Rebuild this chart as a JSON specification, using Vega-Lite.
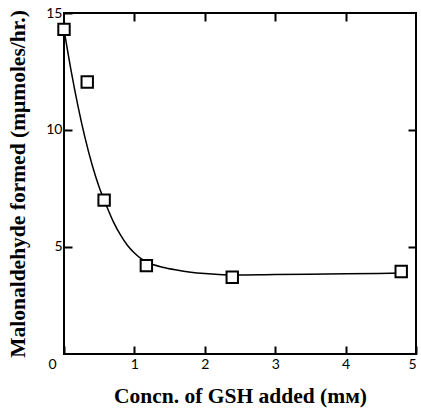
{
  "$schema": "https://vega.github.io/schema/vega-lite/v6.json",
  "width": 352,
  "height": 341,
  "autosize": "none",
  "padding": {"left": 64, "top": 13, "right": 5, "bottom": 57},
  "background": "white",
  "config": {
    "view": {"stroke": "black", "strokeWidth": 2},
    "axis": {
      "domain": false,
      "grid": false,
      "ticks": true,
      "tickSize": -8,
      "tickWidth": 2,
      "tickColor": "black",
      "labelFont": "Lato",
      "labelFontSize": 14,
      "labelColor": "black",
      "titleFont": "Liberation Serif",
      "titleFontSize": 21.5,
      "titleFontWeight": "bold",
      "titleColor": "black"
    }
  },
  "datasets": {
    "points": [
      {"x": 0.0, "y": 14.3},
      {"x": 0.33, "y": 12.05},
      {"x": 0.57, "y": 7.0},
      {"x": 1.17, "y": 4.2},
      {"x": 2.39, "y": 3.7},
      {"x": 4.79, "y": 3.95}
    ],
    "curve": [
      {"x": 0.0, "y": 14.3},
      {"x": 0.1, "y": 12.55},
      {"x": 0.2, "y": 11.0},
      {"x": 0.3, "y": 9.65},
      {"x": 0.4, "y": 8.5},
      {"x": 0.5, "y": 7.55},
      {"x": 0.6, "y": 6.78},
      {"x": 0.7, "y": 6.08},
      {"x": 0.8, "y": 5.52},
      {"x": 0.9, "y": 5.07},
      {"x": 1.0, "y": 4.74},
      {"x": 1.1, "y": 4.49},
      {"x": 1.2, "y": 4.32},
      {"x": 1.4, "y": 4.13},
      {"x": 1.6, "y": 4.01},
      {"x": 1.8, "y": 3.92},
      {"x": 2.0, "y": 3.86},
      {"x": 2.2, "y": 3.82},
      {"x": 2.4, "y": 3.8},
      {"x": 3.0, "y": 3.82},
      {"x": 4.0, "y": 3.85},
      {"x": 4.8, "y": 3.88}
    ]
  },
  "resolve": {"axis": {"x": "independent", "y": "independent"}},
  "layer": [
    {
      "data": {"name": "curve"},
      "mark": {"type": "line", "interpolate": "monotone", "color": "black", "strokeWidth": 1.5},
      "encoding": {
        "x": {
          "field": "x", "type": "quantitative",
          "scale": {"domain": [0, 5], "nice": false, "zero": false},
          "axis": {
            "orient": "bottom",
            "values": [0, 1, 2, 3, 4, 5],
            "title": "Concn. of GSH added (mᴍ)",
            "labelPadding": 11,
            "labelOffset": {"expr": "datum.value == 0 ? -16 : 0"},
            "titlePadding": 14
          }
        },
        "y": {
          "field": "y", "type": "quantitative",
          "scale": {"domain": [0.42, 15], "nice": false, "zero": false},
          "axis": {
            "orient": "left",
            "values": [5, 10, 15],
            "title": "Malonaldehyde formed (mμmoles/hr.)",
            "labelPadding": 10,
            "titlePadding": 16
          }
        }
      }
    },
    {
      "data": {"name": "points"},
      "mark": {"type": "point", "shape": "square", "filled": true, "fill": "white", "stroke": "black", "strokeWidth": 2, "size": 130, "opacity": 1},
      "encoding": {
        "x": {
          "field": "x", "type": "quantitative",
          "axis": {"orient": "top", "values": [1, 2, 3, 4], "labels": false, "title": null}
        },
        "y": {
          "field": "y", "type": "quantitative",
          "axis": {"orient": "right", "values": [5, 10], "labels": false, "title": null}
        }
      }
    }
  ]
}
